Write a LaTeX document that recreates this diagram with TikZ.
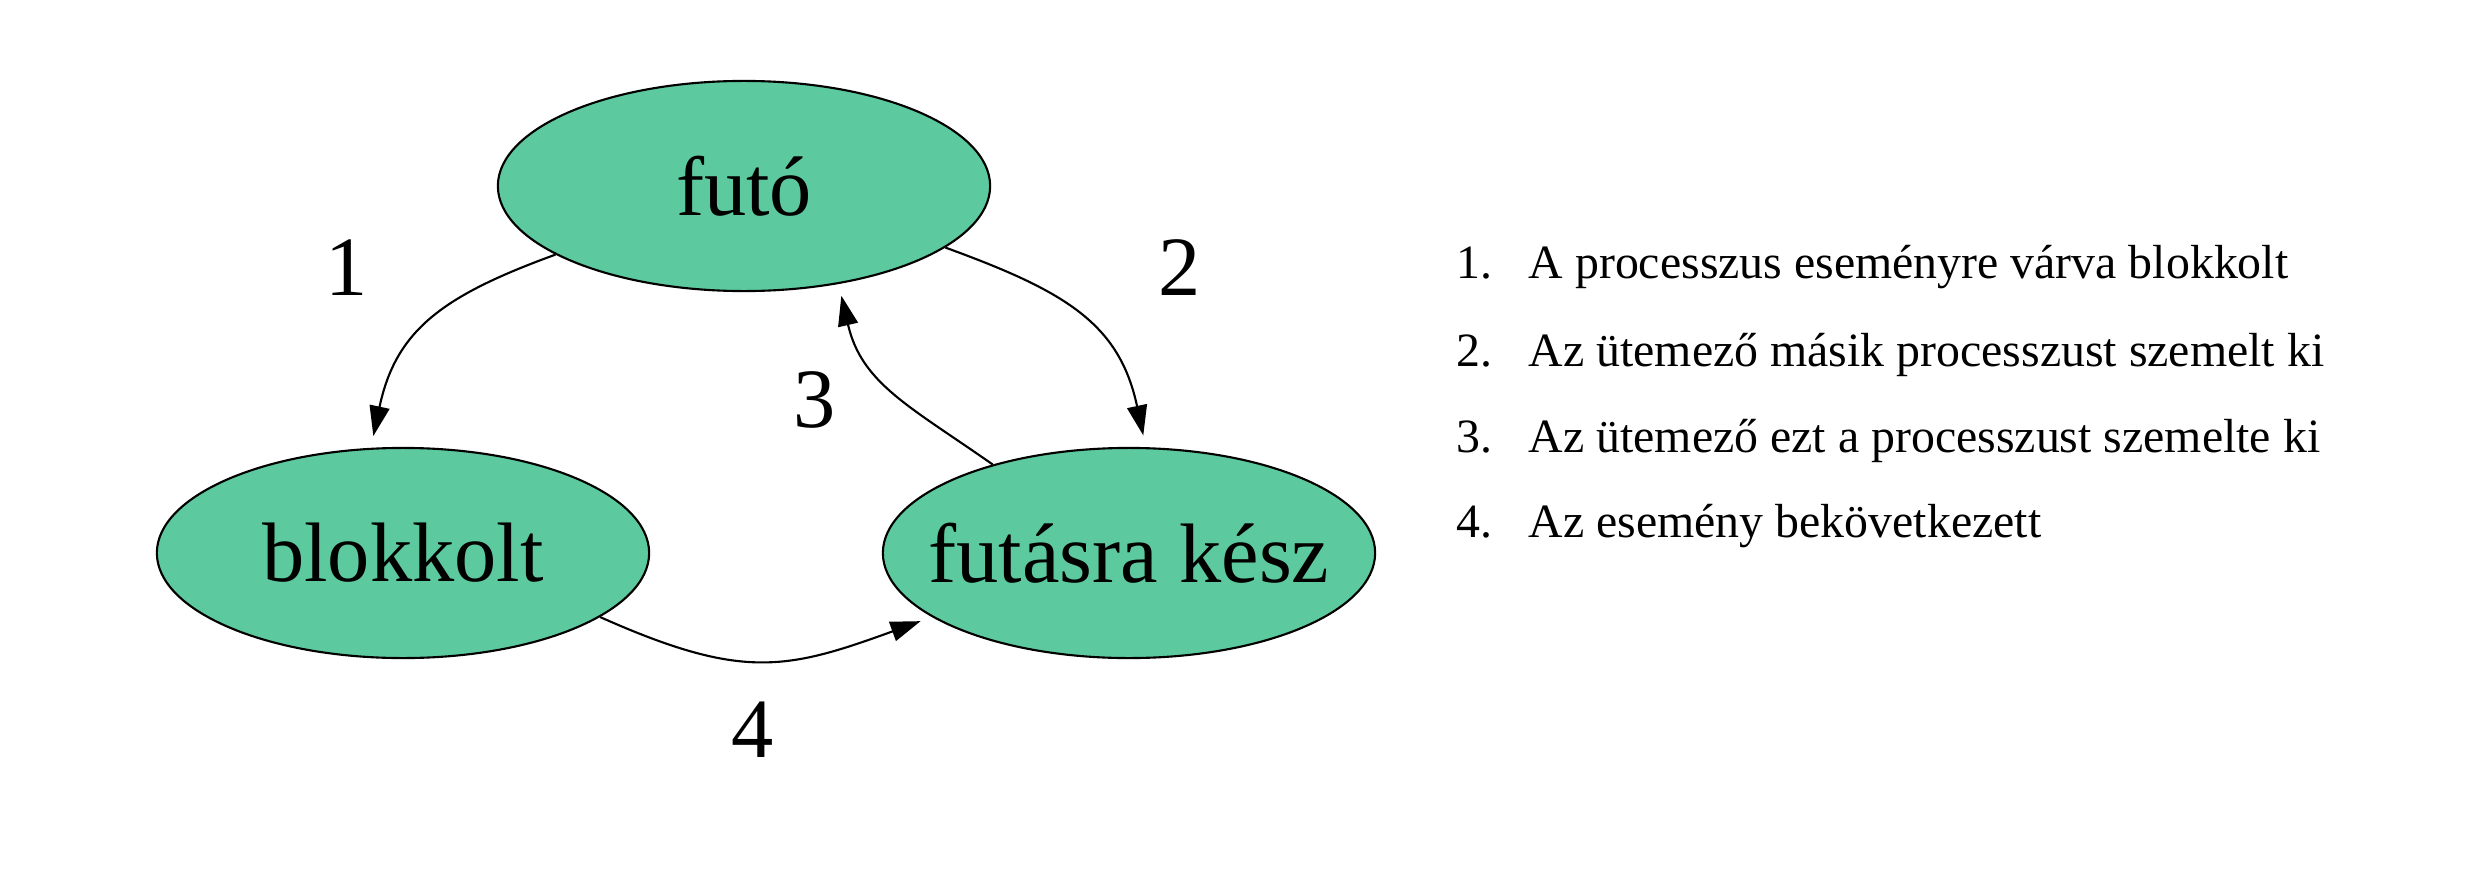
\documentclass[tikz,border=0pt]{standalone}
\usepackage{fontspec}
\setmainfont{Liberation Serif}
\usetikzlibrary{shapes.geometric,arrows.meta,positioning}
\definecolor{stategreen}{RGB}{93,201,158}

\begin{document}
\begin{tikzpicture}[
  x=0.01cm, y=0.01cm,
  state/.style={ellipse, draw=black, line width=0.6pt, fill=stategreen,
    minimum width=4.92cm, minimum height=2.1cm, inner ysep=0pt,
    inner xsep=-0.4cm, font=\fontsize{24}{28}\selectfont},
  trans/.style={-{Triangle[length=0.3cm,width=0.2cm]}, line width=0.6pt,
    shorten >=0.12cm},
  translabel/.style={inner sep=0pt, font=\fontsize{24}{28}\selectfont},
  itemtext/.style={anchor=base west, inner sep=0pt,
    font=\fontsize{13.6}{16}\selectfont},
]
\useasboundingbox (0,0) rectangle (2476,878);

% States
\node[state] (futo)     at (744,692)  {futó};
\node[state] (blokkolt) at (403,325)  {blokkolt};
\node[state] (kesz)     at (1129,325) {futásra kész};

% Transitions
\draw[trans] (futo.200)     to[out=200, in=78, looseness=1.15]  (blokkolt.107);
\draw[trans] (futo.-17)     to[out=-20, in=102, looseness=1.15] (kesz.81);
\draw[trans] (kesz.147)     to[out=145, in=-77, looseness=1.1]  (futo.-46);
\draw[trans] (blokkolt.-18) to[out=-24, in=200, looseness=1.2]  (kesz.198);

% Transition numbers
\node[translabel] (n1) at (347,610)  {1};
\node[translabel] (n2) at (1180,610) {2};
\node[translabel] (n3) at (815,478)  {3};
\node[translabel] (n4) at (753,148)  {4};

% Legend
\foreach \i/\y/\txt in {1/600/A processzus eseményre várva blokkolt,
                        2/512/Az ütemező másik processzust szemelt ki,
                        3/426/Az ütemező ezt a processzust szemelte ki,
                        4/341/Az esemény bekövetkezett} {
  \node[itemtext] (num\i) at (1456,\y) {\i.};
  \node[itemtext] (item\i) at (1528,\y) {\txt};
}
\end{tikzpicture}
\end{document}
